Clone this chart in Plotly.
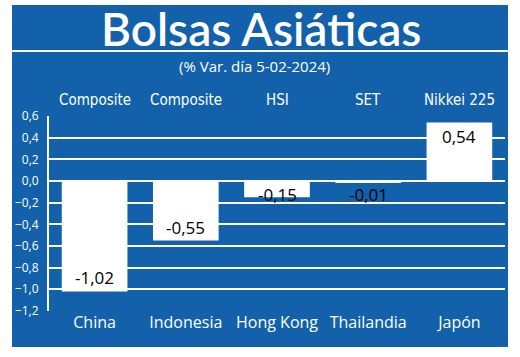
import plotly.graph_objects as go

countries = ["China", "Indonesia", "Hong Kong", "Thailandia", "Japón"]
indices = ["Composite", "Composite", "HSI", "SET", "Nikkei 225"]
values = [-1.02, -0.55, -0.15, -0.01, 0.54]
y_ticks = [0.6, 0.4, 0.2, 0.0, -0.2, -0.4, -0.6, -0.8, -1.0, -1.2]

BLUE = "#1261AA"
W, H = 520, 357
PL, PR = 49, 505           # plot area left/right in pixels
PT, PB = 116, 311          # plot area top/bottom in pixels
PW, PH = PR - PL, PB - PT


def py(pix):
    """pixel row -> paper y"""
    return (PB - pix) / PH


def px(pix):
    """pixel column -> paper x"""
    return (pix - PL) / PW


fig = go.Figure()
fig.add_trace(go.Bar(
    x=countries, y=values,
    marker=dict(color="white", line=dict(width=0)),
    width=0.72,
    hoverinfo="skip",
))

# value labels
for c, v in zip(countries, values):
    txt = f"{v:.2f}".replace(".", ",")
    if v >= 0:
        yv, anchor = v, "top"
    elif v <= -0.3:
        yv, anchor = v, "bottom"
    else:
        yv, anchor = 0, "top"
    fig.add_annotation(x=c, y=yv, text=txt, showarrow=False, yanchor=anchor,
                       font=dict(family="Open Sans", size=17, color="black"))

# top index labels
for c, idx in zip(countries, indices):
    fig.add_annotation(x=c, xref="x", y=1, yref="paper", yshift=16,
                       text=idx, showarrow=False, yanchor="middle",
                       font=dict(family="DejaVu Sans Condensed, Liberation Sans Narrow, Roboto",
                                 size=15, color="white"))

# title and subtitle
fig.add_annotation(x=px(261), xref="paper", y=py(28), yref="paper",
                   text="Bolsas Asiáticas", showarrow=False, borderpad=0,
                   xanchor="center", yanchor="middle",
                   font=dict(family="Lato", size=46, weight=600, color="white"))
fig.add_annotation(x=px(254), xref="paper", y=py(66), yref="paper",
                   text="(% Var. día 5-02-2024)", showarrow=False, borderpad=0,
                   xanchor="center", yanchor="middle",
                   font=dict(family="Open Sans", size=15, color="white"))

fig.update_layout(
    width=W, height=H,
    margin=dict(l=PL, r=W - PR, t=PT, b=H - PB, pad=0),
    paper_bgcolor="white",
    plot_bgcolor=BLUE,
    separators=",.",
    showlegend=False,
    shapes=[
        dict(type="rect", xref="paper", yref="paper", layer="below",
             x0=px(12), x1=px(508), y0=py(347), y1=py(5),
             fillcolor=BLUE, line=dict(width=0)),
        dict(type="line", xref="paper", yref="paper", layer="above",
             x0=px(12), x1=px(508), y0=py(51), y1=py(51),
             line=dict(color="white", width=2)),
    ],
)
fig.update_xaxes(
    showgrid=False, showline=False, zeroline=False, ticks="",
    tickfont=dict(family="Open Sans", size=16, color="white"),
    ticklabelstandoff=0,
)
fig.update_yaxes(
    range=[-1.2005, 0.6005],
    tickvals=y_ticks, tickformat=".1f",
    showgrid=True, gridcolor="white", gridwidth=2,
    zeroline=True, zerolinecolor="white", zerolinewidth=2,
    showline=True, linecolor="white", linewidth=2,
    ticks="", ticklabelstandoff=6,
    tickfont=dict(family="Open Sans", size=12, color="white"),
)

fig.write_html("out.html")
